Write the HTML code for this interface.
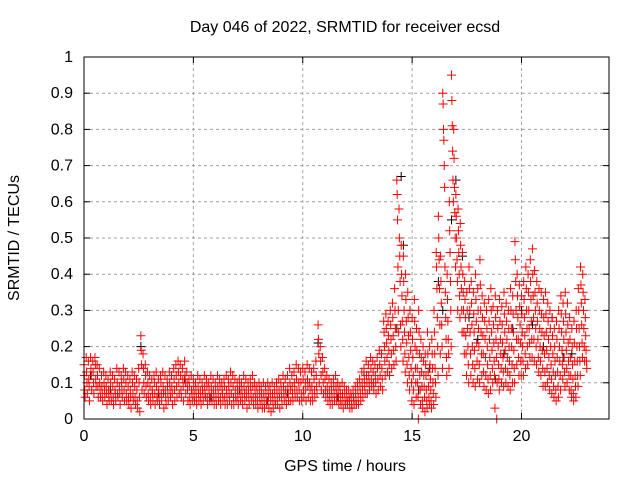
<!DOCTYPE html>
<html><head><meta charset="utf-8"><style>
html,body{margin:0;padding:0;background:#fff;}
svg text{font-family:"Liberation Sans",sans-serif;font-size:16px;fill:#000;}
</style></head><body>
<svg id="chart" width="640" height="480" viewBox="0 0 640 480" xmlns="http://www.w3.org/2000/svg">
<rect width="640" height="480" fill="#fff"/>
<text x="345" y="32" text-anchor="middle">Day 046 of 2022, SRMTID for receiver ecsd</text>
<text x="345" y="471" text-anchor="middle">GPS time / hours</text>
<text transform="translate(19,238) rotate(-90)" text-anchor="middle">SRMTID / TECUs</text>
<g id="grid"></g>
<g id="ticks"></g>
<g id="marks-black"></g>
<g id="marks-red"></g>
<rect x="84" y="57" width="525" height="362" fill="none" stroke="#000" stroke-width="1"/>
</svg>
<script>
const xTicks = [0,5,10,15,20];
const xTickLabels = ["0","5","10","15","20"];
const yTicks = [0,0.1,0.2,0.3,0.4,0.5,0.6,0.7,0.8,0.9,1];
const yTickLabels = ["0","0.1","0.2","0.3","0.4","0.5","0.6","0.7","0.8","0.9","1"];
const binStart = 0;
const binStep = 0.1;
// red series: per 0.1 h bin, values (TECU)
const redVals = [
[.15,.12,.08,.06],[.17,.13,.10,.07],[.16,.11,.09,.05],[.17,.14,.12,.08],[.16,.13,.10,.07],[.17,.15,.11,.09],[.15,.12,.09,.06],[.14,.10,.08,.06],[.12,.09,.07,.05],[.13,.10,.08,.06],
[.12,.09,.07,.04],[.11,.08,.06,.05],[.13,.10,.07,.05],[.12,.09,.06,.04],[.11,.08,.07,.05],[.14,.10,.07,.06],[.13,.09,.07,.04],[.12,.10,.08,.06],[.14,.11,.08,.05],[.13,.10,.07,.05],
[.12,.09,.06,.04],[.11,.08,.06,.03],[.13,.10,.07,.05],[.12,.09,.06,.04],[.11,.08,.05,.03],[.14,.10,.06,.02],[.23,.19,.15,.08],[.18,.14,.10,.07],[.15,.12,.09,.06],[.13,.10,.07,.05],
[.12,.09,.06,.04],[.11,.08,.07,.05],[.12,.10,.07,.04],[.13,.09,.06,.05],[.11,.08,.06,.04],[.12,.10,.07,.05],[.13,.09,.07,.03],[.12,.08,.06,.04],[.11,.09,.07,.05],[.13,.10,.08,.06],
[.12,.09,.07,.04],[.14,.11,.08,.05],[.15,.12,.09,.06],[.16,.13,.10,.07],[.15,.12,.08,.06],[.14,.11,.09,.05],[.16,.12,.10,.07],[.13,.10,.08,.05],[.11,.09,.06,.04],[.12,.08,.07,.05],
[.11,.09,.07,.05],[.10,.08,.06,.04],[.12,.09,.07,.05],[.11,.08,.06,.04],[.10,.08,.07,.05],[.12,.09,.07,.06],[.11,.09,.06,.04],[.10,.08,.06,.05],[.12,.09,.07,.05],[.11,.08,.06,.04],
[.10,.08,.06,.04],[.12,.09,.07,.05],[.11,.09,.06,.04],[.10,.08,.07,.05],[.11,.09,.06,.04],[.12,.08,.06,.04],[.11,.09,.07,.05],[.13,.10,.07,.04],[.12,.09,.06,.04],[.11,.08,.06,.05],
[.10,.08,.06,.04],[.11,.09,.07,.05],[.10,.08,.06,.04],[.12,.09,.07,.05],[.11,.08,.06,.03],[.10,.08,.06,.04],[.11,.09,.07,.05],[.12,.09,.06,.04],[.10,.08,.06,.04],[.09,.07,.05,.03],
[.10,.08,.06,.04],[.09,.07,.05,.03],[.10,.07,.05,.03],[.09,.07,.05,.04],[.10,.08,.06,.03],[.09,.07,.05,.02],[.10,.07,.05,.03],[.09,.07,.05,.04],[.10,.08,.06,.04],[.11,.08,.06,.03],
[.10,.08,.06,.04],[.12,.09,.07,.05],[.11,.08,.06,.04],[.12,.09,.07,.05],[.14,.10,.08,.05],[.12,.09,.07,.05],[.13,.10,.08,.06],[.15,.11,.08,.06],[.14,.10,.08,.05],[.13,.10,.07,.05],
[.14,.11,.08,.06],[.13,.10,.08,.05],[.15,.11,.09,.06],[.14,.10,.08,.05],[.13,.09,.07,.05],[.14,.11,.08,.06],[.16,.12,.09,.07],[.26,.22,.18,.10],[.20,.16,.12,.08],[.17,.13,.10,.07],
[.14,.11,.08,.06],[.12,.09,.07,.05],[.11,.08,.06,.04],[.10,.08,.06,.04],[.11,.09,.07,.05],[.12,.09,.07,.05],[.10,.08,.06,.04],[.09,.07,.05,.04],[.10,.07,.05,.03],[.09,.07,.05,.04],
[.08,.06,.05,.04],[.08,.06,.05,.03],[.07,.06,.04,.03],[.08,.06,.05,.04],[.09,.07,.05,.04],[.10,.08,.06,.04],[.11,.09,.07,.05],[.13,.10,.08,.06],[.14,.11,.09,.07],[.16,.12,.10,.07],
[.15,.12,.10,.08],[.17,.14,.11,.09],[.16,.13,.10,.08],[.15,.12,.10,.07],[.17,.14,.11,.08],[.19,.15,.12,.09],[.18,.14,.11,.08],[.27,.24,.20,.16,.12],[.29,.25,.21,.17,.13],[.27,.23,.19,.15,.12],
[.30,.26,.22,.18,.14],[.32,.28,.23,.19,.15],[.36,.30,.25,.20,.16],[.66,.62,.55,.42,.30,.24],[.58,.50,.45,.38,.26,.20],[.48,.40,.34,.27,.22,.16],[.45,.38,.30,.24,.18,.13],[.40,.33,.27,.21,.15,.10],[.35,.28,.23,.17,.12,.08],[.30,.24,.19,.14,.10,.05],
[.28,.22,.17,.12,.08,.04],[.33,.27,.20,.14,.10,.06],[.25,.19,.14,.10,.06,0],[.30,.24,.18,.12,.08,.04],[.22,.17,.13,.09,.05,.03],[.20,.16,.12,.09,.06,.02],[.18,.15,.12,.08,.05,.03],[.24,.18,.13,.09,.06,.04],[.20,.15,.11,.08,.05,.03],[.22,.18,.14,.10,.07,.04],
[.30,.24,.18,.14,.10,.06],[.46,.42,.36,.28,.20,.12],[.56,.50,.44,.36,.26,.18],[.45,.38,.32,.26,.20,.14],[.90,.87,.80,.77,.70,.64],[.42,.35,.28,.22,.17,.12],[.40,.33,.27,.22,.18,.14],[.60,.52,.46,.38,.30,.20],[.95,.88,.81,.74,.66,.60],[.80,.72,.64,.57,.50,.42],
[.62,.56,.50,.44,.38,.30],[.58,.52,.46,.40,.34,.28],[.54,.48,.42,.36,.30,.24],[.46,.40,.35,.30,.24,.18],[.38,.33,.28,.23,.18,.12],[.35,.30,.25,.20,.15,.10],[.42,.36,.30,.24,.18,.12],[.38,.32,.26,.20,.15,.10],[.35,.29,.24,.19,.14,.09],[.40,.33,.27,.21,.16,.11],
[.36,.30,.25,.20,.15,.10],[.44,.37,.30,.24,.18,.12],[.34,.28,.23,.18,.13,.09],[.32,.27,.22,.17,.12,.08],[.30,.25,.20,.15,.11,.07],[.33,.27,.22,.17,.12,.08],[.36,.30,.24,.19,.14,.10],[.31,.26,.21,.16,.12,.03],[.34,.28,.22,.17,0,.10],[.30,.25,.20,.15,.11,.08],
[.33,.27,.22,.18,.14,.10],[.31,.26,.21,.17,.13,.09],[.35,.29,.24,.19,.14,.10],[.32,.27,.22,.17,.13,.09],[.30,.25,.20,.16,.12,.08],[.36,.30,.25,.20,.15,.10],[.34,.29,.24,.19,.14,.10],[.49,.44,.38,.30,.22,.15],[.40,.34,.28,.22,.17,.12],[.37,.31,.26,.21,.16,.12],
[.34,.29,.24,.20,.16,.12],[.38,.33,.28,.23,.18,.14],[.42,.36,.30,.25,.20,.15],[.40,.35,.30,.25,.21,.17],[.44,.38,.33,.27,.22,.17],[.47,.40,.34,.28,.22,.16],[.41,.35,.30,.25,.20,.15],[.38,.32,.27,.22,.17,.13],[.36,.30,.25,.20,.16,.12],[.35,.29,.24,.19,.14,.09],
[.33,.28,.23,.18,.13,.09],[.35,.29,.24,.19,.14,.10],[.32,.27,.22,.17,.12,.08],[.30,.25,.20,.15,.11,.07],[.28,.23,.18,.13,.09,.06],[.25,.20,.16,.12,.08,.05],[.27,.22,.17,.13,.09,.06],[.30,.25,.20,.16,.12,.08],[.34,.29,.24,.19,.15,.11],[.32,.27,.22,.17,.13,.09],
[.35,.29,.24,.19,.14,.10],[.32,.26,.21,.16,.12,.08],[.28,.22,.17,.12,.08,.06],[.25,.20,.15,.11,.07,.05],[.27,.21,.16,.12,.09,.06],[.30,.25,.20,.16,.12,.09],[.36,.30,.25,.20,.16,.12],[.42,.37,.32,.26,.21,.17],[.40,.35,.30,.25,.20,.16],[.33,.28,.23,.19,.16,.14]
];
// black series: sparse (time h, value)
const blackTimes = [0.3,1.2,2.6,3.4,4.6,5.8,7.1,8.4,9.3,10.7,11.6,12.8,13.6,14.3,14.5,14.6,14.9,15.3,15.8,16.2,16.4,16.8,17.0,17.3,17.6,18.0,18.4,18.8,19.2,19.6,20.0,20.5,21.0,21.4,21.9,22.3,22.7];
const blackVals = [.12,.08,.20,.07,.11,.06,.08,.05,.07,.21,.06,.13,.18,.25,.67,.48,.30,.08,.14,.38,.30,.55,.66,.45,.28,.22,.30,.11,.18,.25,.30,.26,.20,.28,.17,.18,.42];

const X0=84, X1=609, Y0=419, Y1=57, XMAX=24, YMAX=1;
function sx(v){return X0+(v/XMAX)*(X1-X0);}
function sy(v){return Y0-(v/YMAX)*(Y0-Y1);}
const NS="http://www.w3.org/2000/svg";
function mk(tag,attrs,parent){const e=document.createElementNS(NS,tag);for(const k in attrs)e.setAttribute(k,attrs[k]);parent.appendChild(e);return e;}
const grid=document.getElementById('grid'), ticks=document.getElementById('ticks');
yTicks.forEach((t,i)=>{
  const y=sy(t);
  if(t>0&&t<1){const g=mk('line',{x1:X0,x2:X1,y1:y,y2:y,stroke:'#a0a0a0','stroke-dasharray':'3,3'},grid);
  
  }
  mk('line',{x1:X0,x2:X0+6,y1:y,y2:y,stroke:'#000'},ticks);
  mk('line',{x1:X1,x2:X1-6,y1:y,y2:y,stroke:'#000'},ticks);
  const tx=mk('text',{x:X0-11,y:y+5,'text-anchor':'end'},ticks);tx.textContent=yTickLabels[i];
  
  
});
xTicks.forEach((t,i)=>{
  const x=sx(t);
  if(t>0){const g=mk('line',{x1:x,x2:x,y1:Y0,y2:Y1,stroke:'#a0a0a0','stroke-dasharray':'3,3'},grid);
  
  }
  mk('line',{x1:x,x2:x,y1:Y0,y2:Y0-6,stroke:'#000'},ticks);
  mk('line',{x1:x,x2:x,y1:Y1,y2:Y1+6,stroke:'#000'},ticks);
  const tx=mk('text',{x:x,y:Y0+22,'text-anchor':'middle'},ticks);tx.textContent=xTickLabels[i];
  
  
});
function plus(parent,x,y,color){
  return mk('path',{d:`M${x-4.5},${y}h9M${x},${y-4.5}v9`,stroke:color,'stroke-width':1,fill:'none'},parent);
}
const gb=document.getElementById('marks-black');
blackTimes.forEach((t,i)=>{
  const p=plus(gb,sx(t),sy(blackVals[i]),'#000');
  
  
});
const gr=document.getElementById('marks-red');
redVals.forEach((arr,i)=>{
  const t=binStart+i*binStep;
  arr.forEach((v,j)=>{
    const p=plus(gr,sx(t+j*0.017),sy(v),'#ff0000');
    
    
  });
});
</script>
</body></html>
